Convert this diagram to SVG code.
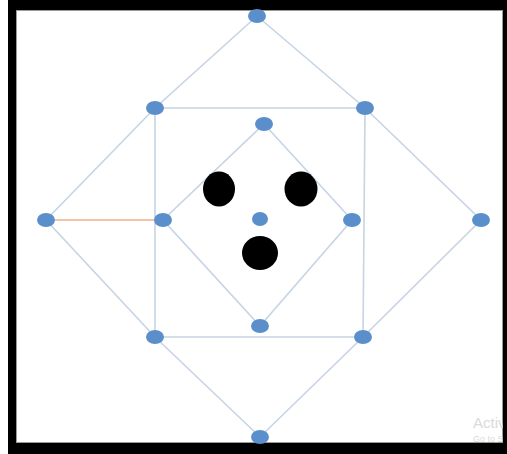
<svg xmlns="http://www.w3.org/2000/svg" width="507" height="454" viewBox="0 0 507 454">
<style>
.edge{stroke:#c6d4e4;stroke-width:1.6;fill:none}
.hl{stroke:#f2b08a;stroke-width:1.6;fill:none}
.n{fill:#5b8fcb}
.b{fill:#000}
.wm{font-family:"Liberation Sans",Arial,sans-serif;fill:#dadada}
</style>
<rect x="0" y="0" width="507" height="454" fill="#ffffff"/>
<rect x="8" y="0" width="499" height="10" fill="#000"/>
<rect x="8" y="0" width="8" height="454" fill="#000"/>
<rect x="8" y="443" width="499" height="11" fill="#000"/>
<rect x="503" y="0" width="4" height="454" fill="#000"/>
<rect x="16.5" y="10.5" width="486" height="432" fill="none" stroke="#9a9a9a" stroke-width="1"/>
<g id="connectors">
<polyline class="edge" points="257,16 365,108 481,220 363,337 260,437 155,337 46,220 155,108 257,16"/>
<polygon class="edge" points="155,108 365,108 363,337 155,337"/>
<polygon class="edge" points="264,124 352,220 260,326 163,220"/>
<line class="hl" x1="46" y1="220" x2="163" y2="220"/>
</g>
<g id="n-top"><ellipse class="n" cx="257" cy="16" rx="9" ry="7"/></g>
<g id="n-sq-tl"><ellipse class="n" cx="155" cy="108" rx="9" ry="7"/></g>
<g id="n-sq-tr"><ellipse class="n" cx="365" cy="108" rx="9" ry="7"/></g>
<g id="n-in-top"><ellipse class="n" cx="264" cy="124" rx="9" ry="7"/></g>
<g id="n-left"><ellipse class="n" cx="46" cy="220" rx="9" ry="7"/></g>
<g id="n-in-left"><ellipse class="n" cx="163" cy="220" rx="9" ry="7"/></g>
<g id="n-center"><ellipse class="n" cx="260" cy="219" rx="8" ry="7"/></g>
<g id="n-in-right"><ellipse class="n" cx="352" cy="220" rx="9" ry="7"/></g>
<g id="n-right"><ellipse class="n" cx="481" cy="220" rx="9" ry="7"/></g>
<g id="n-sq-bl"><ellipse class="n" cx="155" cy="337" rx="9" ry="7"/></g>
<g id="n-in-bottom"><ellipse class="n" cx="260" cy="326" rx="9" ry="7"/></g>
<g id="n-sq-br"><ellipse class="n" cx="363" cy="337" rx="9" ry="7"/></g>
<g id="n-bottom"><ellipse class="n" cx="260" cy="437" rx="9" ry="7"/></g>
<g id="eye-left"><ellipse class="b" cx="219" cy="189" rx="16" ry="17.5"/></g>
<g id="eye-right"><ellipse class="b" cx="301" cy="189" rx="16.5" ry="17.5"/></g>
<g id="mouth"><ellipse class="b" cx="260" cy="253" rx="18" ry="17"/></g>
<svg x="16" y="10" width="487" height="433" overflow="hidden">
<text class="wm" x="457" y="418" font-size="15">Activ</text>
<text class="wm" x="457" y="432" font-size="9">Go to S</text>
</svg>
</svg>
